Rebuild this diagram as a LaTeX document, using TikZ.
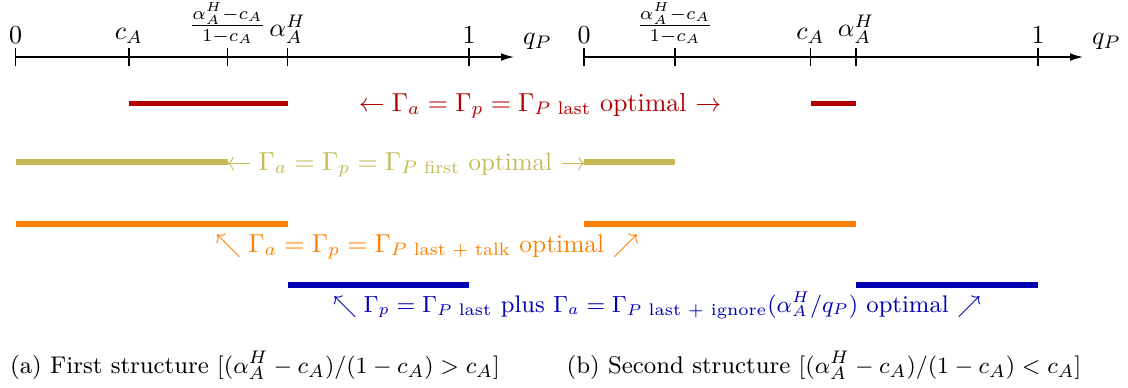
\documentclass[tikz,border=0pt]{standalone}
\usepackage{amsmath}
\usetikzlibrary{arrows.meta}
\definecolor{cred}{RGB}{179,0,0}
\definecolor{cyel}{RGB}{196,185,85}
\definecolor{corg}{RGB}{255,128,0}
\definecolor{cblu}{RGB}{0,0,178}
\newcommand\pxunit{0.385pt}
\begin{document}
\begin{tikzpicture}[x=\pxunit,y=-\pxunit,
  axis/.style={line width=0.55pt,-{Latex[length=5pt,width=3pt]}},
  tick/.style={line width=0.55pt},
  ticklbl/.style={anchor=south,inner sep=1pt},
  bar/.style={line width=1.95pt},
  lbl/.style={anchor=base,inner sep=0pt}]
\useasboundingbox (0,0) rectangle (1128,387);
% left axis
\coordinate (L0) at (15.5,57);
\coordinate (Lc) at (129,57);
\coordinate (Lf) at (227.5,57);
\coordinate (La) at (287.5,57);
\coordinate (L1) at (469,57);
\coordinate (Lend) at (514,57);
% right axis
\coordinate (R0) at (584,57);
\coordinate (Rf) at (675,57);
\coordinate (Rc) at (810.5,57);
\coordinate (Ra) at (856,57);
\coordinate (R1) at (1038,57);
\coordinate (Rend) at (1083,57);
\draw[axis] (L0) -- (Lend);
\draw[axis] (R0) -- (Rend);
\foreach \p in {L0,Lc,Lf,La,L1,R0,Rf,Rc,Ra,R1}{
  \draw[tick] ([yshift=-9*\pxunit]\p) -- ([yshift=9*\pxunit]\p);
}
\node[ticklbl] (tL0) at ([yshift=10*\pxunit]L0) {$0$};
\node[ticklbl] (tLc) at ([yshift=10*\pxunit]Lc) {$c_A$};
\node[ticklbl] (tLf) at ([yshift=10*\pxunit]Lf) {$\frac{\alpha_A^H-c_A}{1-c_A}$};
\node[ticklbl] (tLa) at ([yshift=10*\pxunit]La) {$\alpha_A^H$};
\node[ticklbl] (tL1) at ([yshift=10*\pxunit]L1) {$1$};
\node[anchor=south west,inner sep=1pt] (qL) at ([xshift=6*\pxunit,yshift=4*\pxunit]Lend) {$q_P$};
\node[ticklbl] (tR0) at ([yshift=10*\pxunit]R0) {$0$};
\node[ticklbl] (tRf) at ([yshift=10*\pxunit]Rf) {$\frac{\alpha_A^H-c_A}{1-c_A}$};
\node[ticklbl] (tRc) at ([yshift=10*\pxunit]Rc) {$c_A$};
\node[ticklbl] (tRa) at ([yshift=10*\pxunit]Ra) {$\alpha_A^H$};
\node[ticklbl] (tR1) at ([yshift=10*\pxunit]R1) {$1$};
\node[anchor=south west,inner sep=1pt] (qR) at ([xshift=6*\pxunit,yshift=4*\pxunit]Rend) {$q_P$};
% red row
\draw[bar,cred] (129,103.5) -- (287.5,103.5);
\draw[bar,cred] (810.5,103.5) -- (856,103.5);
\node[lbl,text=cred] (red) at (540,111) {$\leftarrow \Gamma_a=\Gamma_p=\Gamma_{P\text{ last}}$ optimal $\rightarrow$};
% yellow row
\draw[bar,cyel] (15.5,162) -- (227.5,162);
\draw[bar,cyel] (584,162) -- (675,162);
\node[lbl,text=cyel,font=\fontsize{9.65}{11}\selectfont] (yel) at (406,170) {$\leftarrow \Gamma_a=\Gamma_p=\Gamma_{P\text{ first}}$ optimal $\rightarrow$};
% orange row
\draw[bar,corg] (15.5,224) -- (287.5,224);
\draw[bar,corg] (584,224) -- (856,224);
\node[lbl,text=corg,font=\fontsize{9.8}{11}\selectfont] (org) at (427,252) {$\nwarrow \Gamma_a=\Gamma_p=\Gamma_{P\text{ last + talk}}$ optimal $\nearrow$};
% blue row
\draw[bar,cblu] (287.5,285) -- (469,285);
\draw[bar,cblu] (856,285) -- (1038,285);
\node[lbl,text=cblu,font=\fontsize{9.25}{11}\selectfont] (blu) at (657,312) {$\nwarrow \Gamma_p=\Gamma_{P\text{ last}}$ plus $\Gamma_a=\Gamma_{P\text{ last + ignore}}(\alpha_A^H/q_P)$ optimal $\nearrow$};
% captions
\node[lbl,font=\fontsize{9.3}{11}\selectfont] (capa) at (255,373) {(a) First structure $[(\alpha_A^H-c_A)/(1-c_A)>c_A]$};
\node[lbl,font=\fontsize{9.3}{11}\selectfont] (capb) at (824,373) {(b) Second structure $[(\alpha_A^H-c_A)/(1-c_A)<c_A]$};
\end{tikzpicture}
\end{document}
